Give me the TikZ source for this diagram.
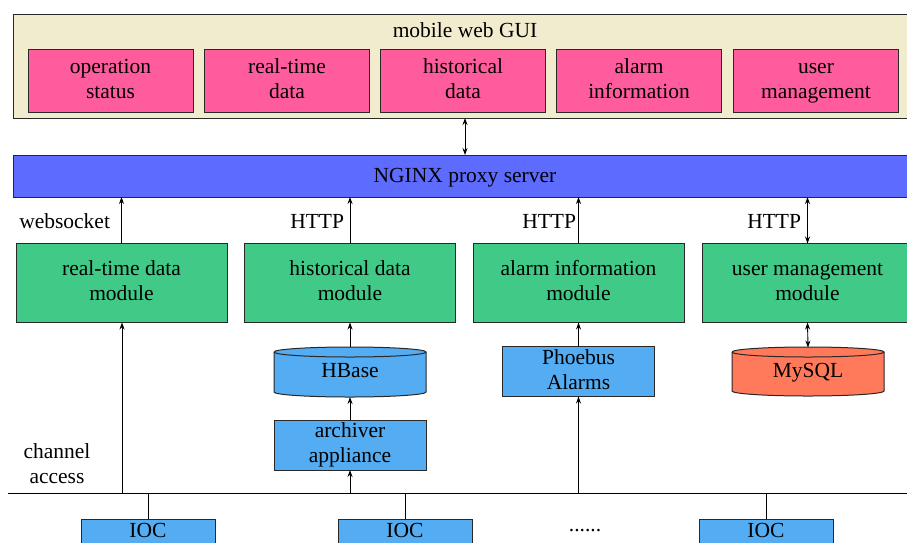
\documentclass[tikz,border=0pt]{standalone}
\usepackage{fontspec}
\setmainfont{Liberation Serif}
\usetikzlibrary{arrows.meta}
\definecolor{guibg}{RGB}{242,236,207}
\definecolor{pinkc}{RGB}{255,92,157}
\definecolor{nginxc}{RGB}{93,107,255}
\definecolor{greenc}{RGB}{65,201,135}
\definecolor{bluec}{RGB}{84,172,242}
\definecolor{orangec}{RGB}{255,122,90}
\definecolor{edgec}{RGB}{40,40,40}
\newcommand{\twol}[2]{\strut #1\\#2\strut}
\begin{document}
\begin{tikzpicture}[x=1pt,y=-1pt,
  every node/.style={font=\fontsize{21.5}{25}\selectfont, text=black, inner sep=0pt, outer sep=0pt},
  boxd/.style={draw=edgec, line width=1pt, align=center},
  guibox/.style={boxd, fill=pinkc, minimum width=165pt, minimum height=63pt},
  modbox/.style={boxd, fill=greenc, minimum width=211pt, minimum height=79pt},
  srcbox/.style={boxd, fill=bluec, minimum width=152pt, minimum height=50pt},
  iocbox/.style={boxd, fill=bluec, minimum width=134pt, minimum height=26pt},
  anch/.style={minimum width=152pt, minimum height=50pt},
  arr/.style={line width=0.9pt, -{Stealth[length=7pt,width=5pt]}},
  darr/.style={line width=0.9pt, {Stealth[length=7pt,width=5pt]}-{Stealth[length=7pt,width=5pt]}},
  ln/.style={line width=0.9pt},
  cyl/.style={draw=edgec, line width=1pt}
]
\useasboundingbox (0,0) rectangle (907,542);

% top GUI
\node[boxd, fill=guibg, minimum width=904pt, minimum height=104pt, anchor=north west] (gui) at (13,14) {};
\node (guit) at (465,32) {\strut mobile web GUI};
\node[guibox] (g1) at (110.5,81) {\twol{operation}{status}};
\node[guibox] (g2) at (287,81) {\twol{real-time}{data}};
\node[guibox] (g3) at (463,81) {\twol{historical}{data}};
\node[guibox] (g4) at (639,81) {\twol{alarm}{information}};
\node[guibox] (g5) at (816,81) {\twol{user}{management}};

% NGINX
\node[boxd, fill=nginxc, minimum width=904pt, minimum height=42pt, anchor=north west] (ngx) at (13,155) {};
\node (ngxt) at (465,177) {\strut NGINX proxy server};

% modules
\node[modbox] (m1) at (121.5,283) {\twol{real-time data}{module}};
\node[modbox] (m2) at (350,283) {\twol{historical data}{module}};
\node[modbox] (m3) at (578.5,283) {\twol{alarm information}{module}};
\node[modbox, anchor=west] (m4) at (702,283) {\twol{user management}{module}};

% labels
\node[anchor=east] (lws) at (110,223) {\strut websocket};
\node[anchor=east] (lh1) at (344,223) {\strut HTTP};
\node[anchor=east] (lh2) at (576,223) {\strut HTTP};
\node[anchor=east] (lh3) at (801,223) {\strut HTTP};
\node[align=center] (lca) at (57,466) {\twol{channel}{access}};

% HBase cylinder
\fill[bluec] (274,352) -- (274,392) arc (180:0:76 and 5) -- (426,352) arc (0:-180:76 and 5) -- cycle;
\draw[cyl] (274,352) -- (274,392) arc (180:0:76 and 5) -- (426,352) arc (0:-180:76 and 5);
\draw[cyl] (274,352) arc (180:0:76 and 5);
\node[anch] (hb) at (350,372) {\strut HBase};

% MySQL cylinder
\fill[orangec] (732,352) -- (732,391) arc (180:0:76 and 5) -- (884,352) arc (0:-180:76 and 5) -- cycle;
\draw[cyl] (732,352) -- (732,391) arc (180:0:76 and 5) -- (884,352) arc (0:-180:76 and 5);
\draw[cyl] (732,352) arc (180:0:76 and 5);
\node[anch] (my) at (808,372.5) {\strut MySQL};

\node[srcbox] (arch) at (350,445) {\twol{archiver}{appliance}};
\node[srcbox] (ph) at (578.5,371.5) {\twol{Phoebus}{Alarms}};

% bus
\coordinate (busl) at (8,493);
\coordinate (busr) at (910,493);
\draw[ln] (busl) -- (busr);

% IOCs
\node[iocbox, anchor=north] (i1) at (148,519) {\strut IOC};
\node[iocbox, anchor=north] (i2) at (405,519) {\strut IOC};
\node[iocbox, anchor=north] (i3) at (766,519) {\strut IOC};
\node (dots) at (585,531) {......};

% connectors top
\draw[darr] (gui.south -| g3) ++(2,0) coordinate (a1) -- (a1 |- ngx.north);
\draw[arr] (m1.north) -- (m1.north |- ngx.south);
\draw[arr] (m2.north) -- (m2.north |- ngx.south);
\draw[arr] (m3.north) -- (m3.north |- ngx.south);
\draw[darr] (m4.north) -- (m4.north |- ngx.south);

% connectors bottom
\coordinate (b1) at (122,493);
\coordinate (b2) at (350,493);
\coordinate (b3) at (578.5,493);
\draw[arr] (b1) -- (b1 |- m1.south);
\draw[arr] (b2) -- (arch.south);
\draw[arr] (arch.north) -- (hb.south);
\draw[arr] (hb.north) -- (m2.south);
\draw[arr] (b3) -- (ph.south);
\draw[arr] (ph.north) -- (m3.south);
\draw[darr] (m4.south) -- (my.north);

\draw[ln] (i1.north) -- (i1.north |- busl);
\draw[ln] (i2.north) -- (i2.north |- busl);
\draw[ln] (i3.north) -- (i3.north |- busl);
\end{tikzpicture}
\end{document}
